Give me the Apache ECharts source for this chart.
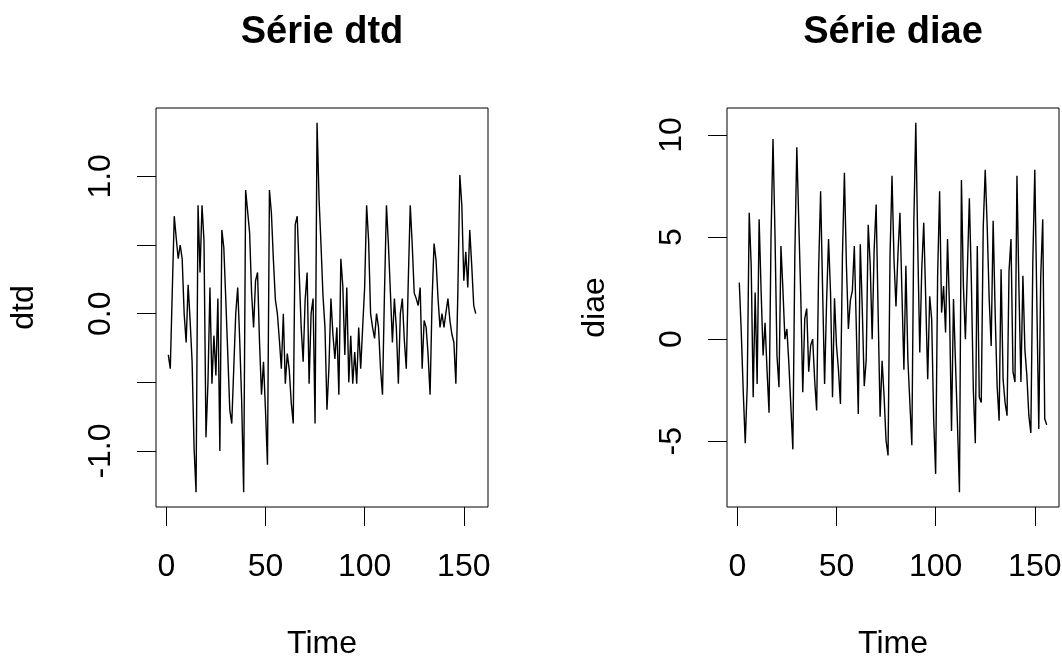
<!DOCTYPE html>
<html>
<head>
<meta charset="utf-8">
<script src="https://cdn.jsdelivr.net/npm/echarts@6/dist/echarts.min.js"></script>
<style>
html,body{margin:0;padding:0;background:#fff;}
#c{width:1062px;height:657px;}
</style>
</head>
<body>
<div id="c"></div>
<script>
// ---- data ----
const titles = ['Série dtd', 'Série diae'];
const yNames = ['dtd', 'diae'];
const xName = 'Time';
const xTicks = [0, 50, 100, 150];
const dtdTicks = [-1, -0.5, 0, 0.5, 1];
const dtdTickLabels = [-1, 0, 1];
const diaeTicks = [-5, 0, 5, 10];

const dtd = [
 -0.30,-0.40,0.16,0.71,0.55,0.40,0.50,0.40,0.00,-0.21,
 0.21,-0.05,-0.35,-0.98,-1.30,0.79,0.30,0.79,0.53,-0.90,
 -0.50,0.19,-0.51,-0.16,-0.45,0.11,-1.00,0.61,0.48,0.10,
 -0.30,-0.70,-0.80,-0.40,0.00,0.19,-0.19,-0.64,-1.30,0.90,
 0.90,0.59,0.15,-0.10,0.24,0.30,-0.21,-0.59,-0.35,-0.70,
 -1.10,0.90,0.73,0.39,0.10,0.00,-0.19,-0.40,0.00,-0.51,
 -0.29,-0.41,-0.65,-0.80,0.65,0.71,0.30,-0.10,-0.35,0.10,
 0.30,-0.51,0.00,0.11,-0.80,1.39,0.84,0.50,0.13,-0.10,
 -0.70,-0.39,0.11,-0.15,-0.33,-0.10,-0.59,0.40,0.20,-0.30,
 0.19,-0.50,-0.16,-0.51,-0.28,-0.51,-0.10,-0.40,-0.10,0.19,
 0.79,0.53,0.00,-0.10,-0.18,0.00,-0.10,-0.40,-0.59,0.15,
 0.79,0.50,0.15,-0.21,0.11,-0.11,-0.51,0.00,0.11,-0.19,
 -0.40,0.24,0.79,0.50,0.15,0.11,0.06,0.19,-0.40,-0.05,
 -0.10,-0.30,-0.59,0.10,0.51,0.39,0.11,-0.10,0.00,-0.10,
 0.01,0.11,-0.05,-0.15,-0.21,-0.51,0.16,1.01,0.79,0.24,
 0.45,0.19,0.61,0.35,0.06,0.00
];

const diae = [
 2.77,0.33,-2.6,-5.1,-2.3,6.19,3.6,-2.85,2.28,-2.2,
 5.87,2.36,-0.8,0.8,-1.55,-3.6,5.05,9.81,5.13,-0.8,
 -2.36,4.56,2.4,0.0,0.5,-1.2,-3.3,-5.4,4.07,9.4,
 5.7,2.1,-2.6,1.0,1.5,-1.6,-0.3,0.0,-2.0,-3.5,
 3.42,7.25,2.45,-2.2,1.8,4.9,2.3,-2.85,2.0,-0.3,
 -1.5,-3.18,4.07,8.15,3.67,0.5,1.9,2.36,4.56,0.57,
 -3.67,4.65,1.5,-2.3,-1.0,5.6,3.67,0.0,4.4,6.6,
 1.3,-3.8,-1.06,-2.8,-4.97,-5.7,4.07,8.0,3.9,1.6,
 4.2,6.19,2.3,-1.5,3.6,-1.0,-3.1,-5.2,5.7,10.6,
 4.48,-0.65,3.42,5.7,1.96,-1.96,2.1,0.98,-3.9,-6.6,
 3.1,7.25,1.3,2.6,0.33,4.9,1.47,-4.5,1.96,-1.14,
 -4.15,-7.5,7.8,2.6,0.0,3.42,6.9,2.9,-2.45,-5.1,
 4.56,-2.85,-3.1,5.5,8.3,5.5,1.96,-0.33,5.8,1.3,
 -2.3,-4.0,3.42,-1.96,-3.1,-3.75,3.34,4.9,-1.6,-2.1,
 8.0,2.45,-2.1,3.1,-0.5,-1.8,-3.75,-4.6,3.83,8.3,
 1.96,-4.4,3.1,5.87,-3.9,-4.2
];

// ---- helpers ----
function pairs(arr){ return arr.map((v,i)=>[i+1, v]); }
function rRange(lo, hi){ const d = (hi-lo)*0.04; return [lo-d, hi+d]; }

const FONT = '"Liberation Sans", Arial, sans-serif';
const xr = rRange(1, dtd.length);
const yr1 = rRange(Math.min(...dtd), Math.max(...dtd));
const yr2 = rRange(Math.min(...diae), Math.max(...diae));

const gridLefts = [156, 727];
const GW = 332, GT = 108, GH = 399;

function xAxisFor(gi){
  return {
    type:'value', gridIndex:gi, min:xr[0], max:xr[1], position:'bottom',
    name:xName, nameLocation:'middle', nameGap:121,
    nameTextStyle:{fontFamily:FONT, fontSize:32, color:'#000'},
    axisLine:{show:false, onZero:false}, splitLine:{show:false},
    axisTick:{show:true, inside:false, length:19, customValues:xTicks, lineStyle:{color:'#000', width:1}},
    axisLabel:{customValues:xTicks, margin:44, fontFamily:FONT, fontSize:32, color:'#000'}
  };
}
function yAxisFor(gi, range, name, ticks, labels, fmt){
  return {
    type:'value', gridIndex:gi, min:range[0], max:range[1], position:'left',
    name:name, nameLocation:'middle', nameGap:116,
    nameTextStyle:{fontFamily:FONT, fontSize:32, color:'#000'},
    axisLine:{show:false, onZero:false}, splitLine:{show:false},
    axisTick:{show:true, inside:false, length:19, customValues:ticks, lineStyle:{color:'#000', width:1}},
    axisLabel:{customValues:labels, rotate:90, margin:39, fontFamily:FONT, fontSize:32, color:'#000',
      formatter:fmt}
  };
}

const option = {
  animation:false,
  backgroundColor:'#fff',
  grid: gridLefts.map(l=>({left:l, top:GT, width:GW, height:GH, show:true,
        borderColor:'#000', borderWidth:1, backgroundColor:'transparent',
        outerBoundsMode:'none', containLabel:false})),
  xAxis:[xAxisFor(0), xAxisFor(1)],
  yAxis:[
    yAxisFor(0, yr1, yNames[0], dtdTicks, dtdTickLabels, v=>Number(v).toFixed(1)),
    yAxisFor(1, yr2, yNames[1], diaeTicks, diaeTicks, v=>String(v))
  ],
  graphic: titles.map((t,i)=>({
    type:'text', x: gridLefts[i] + GW/2, y: 33,
    style:{text:t, fontFamily:FONT, fontSize:38, fontWeight:'bold', fill:'#000',
           textAlign:'center', textVerticalAlign:'middle'}
  })),
  series:[
    {type:'line', xAxisIndex:0, yAxisIndex:0, data:pairs(dtd), showSymbol:false,
     lineStyle:{color:'#000', width:1.4}, silent:true},
    {type:'line', xAxisIndex:1, yAxisIndex:1, data:pairs(diae), showSymbol:false,
     lineStyle:{color:'#000', width:1.4}, silent:true}
  ]
};

const chart = echarts.init(document.getElementById('c'), null, {renderer:'canvas'});
chart.setOption(option);
</script>
</body>
</html>
